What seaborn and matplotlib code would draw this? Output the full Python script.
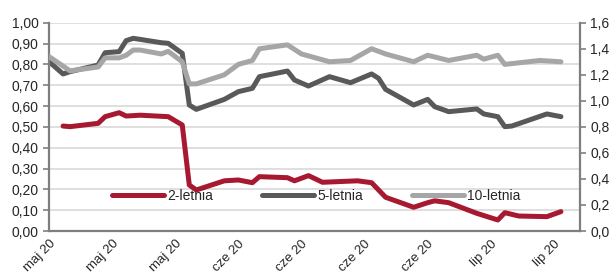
import pandas as pd
import matplotlib.pyplot as plt
import matplotlib.ticker as mticker
import seaborn as sns

# rentownosci obligacji
dates_2y = ["2020-05-07", "2020-05-08", "2020-05-12", "2020-05-13", "2020-05-15", "2020-05-16",
            "2020-05-18", "2020-05-22", "2020-05-24", "2020-05-25", "2020-05-26", "2020-05-30",
            "2020-06-01", "2020-06-03", "2020-06-04", "2020-06-08", "2020-06-09", "2020-06-11",
            "2020-06-13", "2020-06-18", "2020-06-20", "2020-06-22", "2020-06-26", "2020-06-28",
            "2020-06-29", "2020-07-01", "2020-07-05", "2020-07-08", "2020-07-09", "2020-07-11",
            "2020-07-15", "2020-07-17"]
vals_2y = [0.504, 0.501, 0.517, 0.549, 0.568, 0.552,
           0.556, 0.549, 0.509, 0.221, 0.197, 0.241,
           0.245, 0.232, 0.261, 0.256, 0.241, 0.266,
           0.234, 0.241, 0.232, 0.162, 0.114, 0.136,
           0.145, 0.136, 0.085, 0.053, 0.088, 0.072,
           0.069, 0.093]

dates_5y = ["2020-05-05", "2020-05-07", "2020-05-08", "2020-05-12", "2020-05-13", "2020-05-15",
            "2020-05-16", "2020-05-17", "2020-05-18", "2020-05-21", "2020-05-22", "2020-05-24",
            "2020-05-25", "2020-05-26", "2020-05-30", "2020-06-01", "2020-06-03", "2020-06-04",
            "2020-06-08", "2020-06-09", "2020-06-11", "2020-06-14", "2020-06-17", "2020-06-20",
            "2020-06-21", "2020-06-22", "2020-06-26", "2020-06-28", "2020-06-29", "2020-07-01",
            "2020-07-05", "2020-07-06", "2020-07-08", "2020-07-09", "2020-07-10", "2020-07-15",
            "2020-07-17"]
vals_5y = [0.813, 0.754, 0.765, 0.797, 0.856, 0.861,
           0.914, 0.925, 0.920, 0.904, 0.901, 0.853,
           0.605, 0.584, 0.632, 0.669, 0.685, 0.741,
           0.768, 0.725, 0.696, 0.741, 0.712, 0.754,
           0.733, 0.680, 0.605, 0.632, 0.597, 0.573,
           0.586, 0.562, 0.549, 0.501, 0.504, 0.562,
           0.549]

dates_10y = ["2020-05-05", "2020-05-08", "2020-05-12", "2020-05-13", "2020-05-15", "2020-05-16",
             "2020-05-17", "2020-05-18", "2020-05-21", "2020-05-22", "2020-05-24", "2020-05-25",
             "2020-05-26", "2020-05-30", "2020-06-01", "2020-06-03", "2020-06-04", "2020-06-08",
             "2020-06-10", "2020-06-14", "2020-06-17", "2020-06-18", "2020-06-20", "2020-06-22",
             "2020-06-26", "2020-06-28", "2020-07-01", "2020-07-05", "2020-07-06", "2020-07-08",
             "2020-07-09", "2020-07-14", "2020-07-17"]
vals_10y = [1.34, 1.23, 1.26, 1.33, 1.33, 1.35,
            1.39, 1.39, 1.36, 1.38, 1.30, 1.13,
            1.13, 1.20, 1.28, 1.31, 1.40, 1.43,
            1.36, 1.30, 1.31, 1.34, 1.40, 1.36,
            1.30, 1.35, 1.31, 1.35, 1.32, 1.35,
            1.28, 1.31, 1.30]

tick_dates = ["2020-05-05", "2020-05-14", "2020-05-23", "2020-06-01", "2020-06-10",
              "2020-06-19", "2020-06-28", "2020-07-07", "2020-07-16"]
tick_labels = ["maj 20", "maj 20", "maj 20", "cze 20", "cze 20",
               "cze 20", "cze 20", "lip 20", "lip 20"]

sns.set_style("white")
plt.rcParams["font.family"] = ["Liberation Sans", "DejaVu Sans"]
plt.rcParams["font.size"] = 10

red = "#a71930"
dark = "#595959"
light = "#a6a6a6"
axis_col = "#7f7f7f"
txt = "#262626"

fig, ax = plt.subplots(figsize=(6.13, 2.77), dpi=100)
fig.subplots_adjust(left=0.080, right=0.946, top=0.918, bottom=0.166)
ax2 = ax.twinx()

sns.lineplot(x=pd.to_datetime(dates_2y), y=vals_2y, ax=ax, color=red, linewidth=3.6, label="2-letnia", legend=False)
sns.lineplot(x=pd.to_datetime(dates_5y), y=vals_5y, ax=ax, color=dark, linewidth=3.6, label="5-letnia", legend=False)
sns.lineplot(x=pd.to_datetime(dates_10y), y=vals_10y, ax=ax2, color=light, linewidth=3.6, label="10-letnia", legend=False)

ax.set_xlim(pd.Timestamp("2020-05-05"), pd.Timestamp("2020-07-19 17:00"))
ax.set_ylim(0, 1.0)
ax2.set_ylim(0, 1.6)
ax.set_yticks([i / 10 for i in range(11)])
ax2.set_yticks([i / 5 for i in range(9)])
ax.yaxis.set_major_formatter(mticker.FuncFormatter(lambda v, p: f"{v:.2f}".replace(".", ",")))
ax2.yaxis.set_major_formatter(mticker.FuncFormatter(lambda v, p: f"{v:.1f}".replace(".", ",")))

ax.set_xticks(pd.to_datetime(tick_dates))
ax.set_xticklabels(tick_labels, rotation=45, ha="right", rotation_mode="anchor")
ax.set_xlabel("")
ax.set_ylabel("")
ax2.set_ylabel("")

ax.yaxis.grid(True, color="#d9d9d9", linewidth=1.2)
ax.set_axisbelow(True)

for s in ["top", "right"]:
    ax.spines[s].set_visible(False)
for s in ["top", "left", "bottom"]:
    ax2.spines[s].set_visible(False)
for s in [ax.spines["left"], ax.spines["bottom"], ax2.spines["right"]]:
    s.set_color(axis_col)
    s.set_linewidth(1.6)

ax.tick_params(axis="both", colors=axis_col, labelcolor=txt, labelsize=10, length=4, width=1.2, direction="out")
ax.tick_params(axis="x", length=5, pad=0, labelsize=9.5)
ax2.tick_params(axis="y", colors=axis_col, labelcolor=txt, labelsize=10, length=4, width=1.2, direction="out")

h1, l1 = ax.get_legend_handles_labels()
h2, l2 = ax2.get_legend_handles_labels()
ax2.legend(h1 + h2, l1 + l2, loc="center", bbox_to_anchor=(0.503, 0.168), ncol=3, frameon=False,
           handlelength=3.75, handletextpad=0.25, columnspacing=3.5, fontsize=10, labelcolor=txt)

plt.savefig("out.png", dpi=100)
plt.close()
